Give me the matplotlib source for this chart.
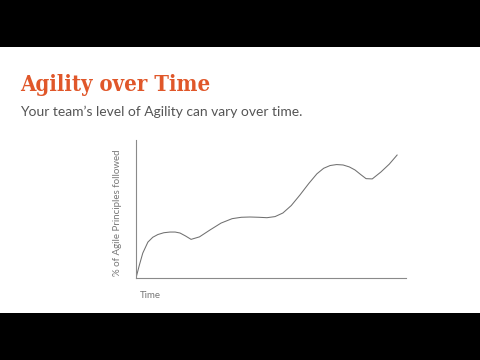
import matplotlib
matplotlib.use("Agg")
import matplotlib.pyplot as plt
from matplotlib.patches import Rectangle

# Data (time in % of axis width, agility in % of axis height)
time = [0, 1.2, 2.5, 4.4, 6.2, 8.1, 10.3, 12.6, 14.5, 16.3, 18.3, 20.4, 23.5,
        27.4, 31.5, 35.6, 39.0, 42.2, 45.5, 48.5, 51.5, 54.4, 57.5, 60.7, 64.0,
        67.0, 69.5, 71.9, 74.3, 76.7, 79.0, 81.1, 83.2, 85.2, 87.5, 90.7, 93.8, 96.7]
agility = [0, 9, 18, 26, 29.5, 31.5, 32.8, 33.3, 33.3, 32.6, 30.5, 28.0, 29.8,
           34.8, 39.8, 43.0, 44.0, 44.2, 44.0, 43.7, 44.5, 47.1, 52.5, 60.1, 68.5,
           75.5, 79.5, 81.5, 82.2, 81.9, 80.5, 78.3, 75.0, 72.0, 71.8, 76.8, 82.5, 89.1]

title = "Agility over Time"
subtitle = "Your team\u2019s level of Agility can vary over time."
ylabel = "% of Agile Principles followed"
xlabel = "Time"

fig = plt.figure(figsize=(4.8, 3.6), dpi=100, facecolor="white")
# black letterbox bars
fig.patches.append(Rectangle((0, 1 - 47/360), 1, 47/360, transform=fig.transFigure,
                             facecolor="black", edgecolor="none", zorder=0))
fig.patches.append(Rectangle((0, 0), 1, 47/360, transform=fig.transFigure,
                             facecolor="black", edgecolor="none", zorder=0))

fig.text(20/480, 1 - 91/360, title, fontsize=15.8, fontweight="bold",
         family="DejaVu Serif", stretch="condensed", color="#E0572A",
         ha="left", va="baseline")
fig.text(20/480, 1 - 116/360, subtitle, fontsize=10.0, family="Lato",
         color="#555555", ha="left", va="baseline")

ax = fig.add_axes([136/480, (360-278)/360, 270/480, 138/360])
ax.plot(time, agility, color="#707070", lw=0.75)
ax.set_xlim(0, 100)
ax.set_ylim(0, 100)
ax.set_xticks([])
ax.set_yticks([])
for s in ["top", "right"]:
    ax.spines[s].set_visible(False)
for s in ["left", "bottom"]:
    ax.spines[s].set_color("#8a8a8a")
    ax.spines[s].set_linewidth(0.8)
ax.patch.set_alpha(0)

fig.text(117/480, 1 - 213/360, ylabel, rotation=90, fontsize=7.0, family="Lato",
         color="#777777", ha="center", va="center")
fig.text(140/480, 1 - 296/360, xlabel, fontsize=7.0, family="Lato",
         color="#777777", ha="left", va="center")

fig.savefig("out.png", dpi=100, facecolor="white")
